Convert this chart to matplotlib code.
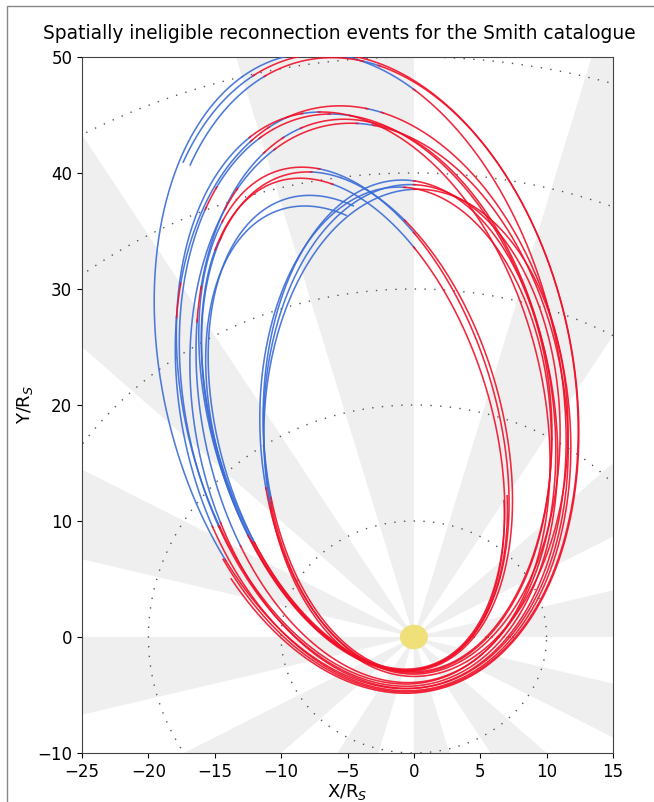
import numpy as np
import matplotlib
matplotlib.use('Agg')
from matplotlib import pyplot as plt
from matplotlib.patches import Wedge, Circle, Rectangle

# orbit shapes: periapsis / apoapsis distance (R_S) and apoapsis direction (deg)
orbit_rp = [4.4, 4.8, 4.7,
            4.6, 4.2, 3.9, 4.4, 4.0,
            2.8, 2.9, 2.7,
            2.8, 2.8,
            3.2, 3.0, 3.4, 3.1]
orbit_ra = [51.0, 50.8, 50.4,
            46.2, 45.6, 45.0, 44.6, 45.9,
            41.5, 41.0, 40.6,
            39.0, 38.2,
            39.0, 39.4, 38.6, 38.8]
orbit_apo = [100, 99, 98.5,
             98.5, 99.5, 98, 97.5, 100.5,
             103.5, 103, 104,
             103.5, 104.5,
             90.5, 91.5, 89.5, 92]
# visible part of each trajectory (polar angle, deg)
arc_start = [0, -200, -205, 0, 0, 0, 0, 0, 0, 0, 0, 97, 98, 0, 0, 0, 0]
arc_end = [360, 113, 112.5, 360, 360, 360, 360, 360, 360, 360, 360, 420, 420, 360, 360, 360, 360]
# polar angle ranges drawn in blue, the rest is red
blue_spans = [
    [(90, 96), (99, 155)],
    [(96, 97.5), (104, 113)],
    [(93, 94.5), (103, 112.5)],
    [(93, 94.5), (102, 104), (106, 120), (123, 148)],
    [(96, 98), (105, 111), (113, 147)],
    [(101, 103), (105, 118), (121, 149)],
    [(94, 95.5), (104, 109), (111, 146)],
    [(99, 100.5), (106, 147)],
    [(90, 100), (112, 146)],
    [(91, 101), (113, 145)],
    [(90, 99), (114, 146)],
    [(97, 146)],
    [(98, 146)],
    [(90, 133)],
    [(90, 132)],
    [(90, 134)],
    [(91, 131)],
]

circle_radii = [10, 20, 30, 40, 50]
xticks = [-25, -20, -15, -10, -5, 0, 5, 10, 15]
yticks = [-10, 0, 10, 20, 30, 40, 50]

red = '#f01028'
blue = '#3a6cd6'

fig = plt.figure(figsize=(6.54, 8.02), dpi=100)
ax = fig.add_axes([0.1254, 0.0611, 0.8119, 0.8679])

# local time sectors
for k in range(12):
    ax.add_patch(Wedge((0, 0), 200, 30 * k, 30 * k + 15, color='#efefef', lw=0, zorder=0))

th = np.linspace(0, 2 * np.pi, 400)
for r in circle_radii:
    ax.plot(r * np.cos(th), r * np.sin(th), color='#555555', lw=1.0,
            linestyle=(0, (1, 6)), zorder=1)


def in_spans(ang, spans):
    a = np.mod(ang, 360)
    m = np.zeros(a.shape, bool)
    for lo, hi in spans:
        m |= (a >= lo) & (a <= hi)
    return m


for i in range(len(orbit_rp)):
    rp, ra = orbit_rp[i], orbit_ra[i]
    a = (rp + ra) / 2
    e = (ra - rp) / (ra + rp)
    p = a * (1 - e ** 2)
    ang = np.linspace(arc_start[i], arc_end[i], 2000)
    t = np.radians(ang)
    r = p / (1 + e * np.cos(t - np.radians(orbit_apo[i] + 180)))
    x, y = r * np.cos(t), r * np.sin(t)
    isblue = in_spans(ang, blue_spans[i])
    # widen masks by one point so segments join
    bmask = isblue | np.roll(isblue, 1) | np.roll(isblue, -1)
    rmask = ~isblue | np.roll(~isblue, 1) | np.roll(~isblue, -1)
    ax.plot(np.where(bmask, x, np.nan), np.where(bmask, y, np.nan), color=blue, lw=1.15, alpha=0.9, zorder=3)
    ax.plot(np.where(rmask, x, np.nan), np.where(rmask, y, np.nan), color=red, lw=1.15, alpha=0.9, zorder=4)

ax.add_patch(Circle((0, 0), 1.0, color='#efe07a', zorder=5))

ax.set_xlim(-25, 15)
ax.set_ylim(-10, 50)
ax.set_xticks(xticks)
ax.set_yticks(yticks)
ax.tick_params(labelsize=12)
for s in ax.spines.values():
    s.set_color('#444444')
ax.set_xlabel('X/R$_S$', fontsize=13, labelpad=1)
ax.set_ylabel('Y/R$_S$', fontsize=13, labelpad=2)
ax.set_title('Spatially ineligible reconnection events for the Smith catalogue',
             fontsize=13.4, pad=13, x=0.485)

fig.patches.append(Rectangle((0.011, -0.01), 1.0, 1.0025, transform=fig.transFigure,
                             fill=False, edgecolor='#888888', lw=1.0))

fig.savefig('out.png', dpi=100)
